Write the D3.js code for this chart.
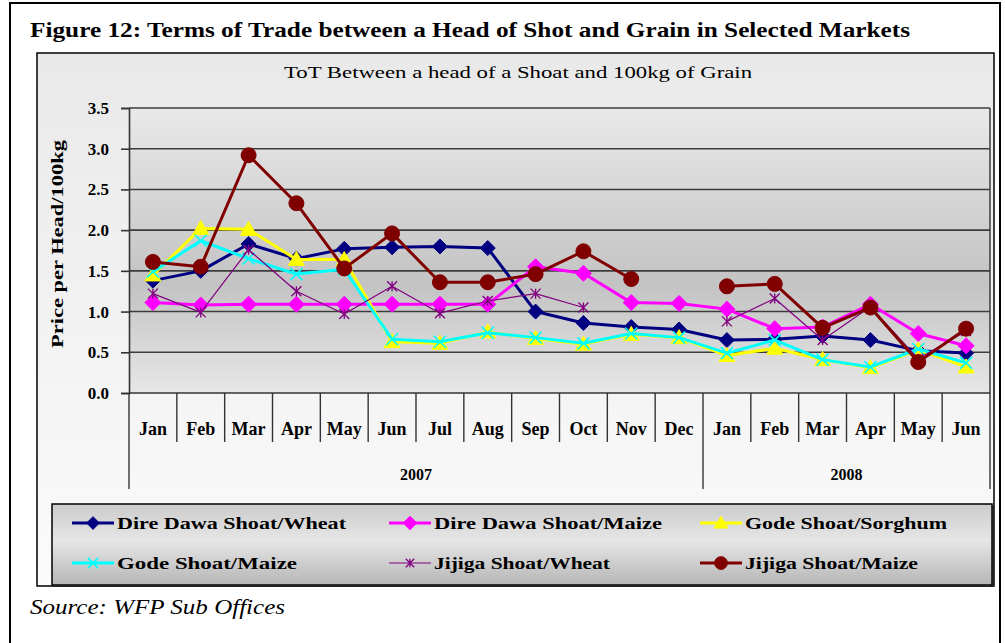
<!DOCTYPE html>
<html>
<head>
<meta charset="utf-8">
<script src="https://cdn.jsdelivr.net/npm/d3@7"></script>
<style>
  html, body { margin: 0; padding: 0; background: #ffffff; }
  svg { display: block; }
  text { font-family: "Liberation Serif", "Tinos", "Times New Roman", "Nimbus Roman", "DejaVu Serif Condensed", "DejaVu Serif", serif; font-stretch: condensed; fill: #000; }
</style>
</head>
<body>
<svg id="chart" width="1005" height="643"></svg>
<script>
// ---------------- DATA ----------------
const months = ["Jan","Feb","Mar","Apr","May","Jun","Jul","Aug","Sep","Oct","Nov","Dec",
                "Jan","Feb","Mar","Apr","May","Jun"];
const yearLabels = ["2007", "2008"];
const yearMonthCounts = [12, 6];
const yTicks = [0, 0.5, 1.0, 1.5, 2.0, 2.5, 3.0, 3.5];

const seriesNames = ["Dire Dawa Shoat/Wheat", "Dire Dawa Shoat/Maize", "Gode Shoat/Sorghum",
                     "Gode Shoat/Maize", "Jijiga Shoat/Wheat", "Jijiga Shoat/Maize"];

const direDawaWheat = [1.38,1.50,1.83,1.65,1.77,1.79,1.80,1.78,1.00,0.86,0.81,0.78,0.65,0.66,0.70,0.65,0.52,0.49];
const direDawaMaize = [1.11,1.08,1.09,1.09,1.09,1.09,1.09,1.09,1.55,1.47,1.11,1.10,1.03,0.79,0.81,1.09,0.73,0.58];
const godeSorghum   = [1.45,2.02,2.01,1.64,1.64,0.63,0.61,0.75,0.67,0.60,0.72,0.68,0.46,0.55,0.41,0.31,0.53,0.32];
const godeMaize     = [1.49,1.87,1.65,1.46,1.52,0.66,0.63,0.74,0.68,0.61,0.73,0.68,0.49,0.65,0.41,0.32,0.54,0.37];
const jijigaWheat   = [1.22,0.99,1.76,1.25,0.97,1.31,0.98,1.13,1.22,1.05,null,null,0.88,1.16,0.65,1.06,0.42,0.76];
const jijigaMaize   = [1.61,1.55,2.92,2.33,1.53,1.96,1.36,1.36,1.46,1.74,1.40,null,1.31,1.34,0.80,1.05,0.38,0.79];

const seriesValues = [direDawaWheat, direDawaMaize, godeSorghum, godeMaize, jijigaWheat, jijigaMaize];

// ---------------- STYLE ----------------
const seriesStyle = [
  {color: "#000080", width: 3,   marker: "diamond",  size: 7.5},
  {color: "#ff00ff", width: 3,   marker: "diamond",  size: 8},
  {color: "#ffff00", width: 3,   marker: "triangle", size: 8},
  {color: "#00ffff", width: 3,   marker: "x",        size: 6},
  {color: "#800080", width: 1.2, marker: "star",     size: 5},
  {color: "#800000", width: 3,   marker: "circle",   size: 7.5}
];
const legendTextWidths = [229, 228, 202, 180, 176, 173];

const svg = d3.select("#chart");
const defs = svg.append("defs");

function vgrad(id, stops) {
  const g = defs.append("linearGradient").attr("id", id)
    .attr("x1", 0).attr("y1", 0).attr("x2", 0).attr("y2", 1);
  stops.forEach(s => g.append("stop").attr("offset", s[0]).attr("stop-color", s[1]));
}
vgrad("chartBg", [[0, "#e9e9e9"], [1, "#fbfbfb"]]);
vgrad("plotBg", [[0, "#e9e9e9"], [0.62, "#c3c3c3"], [1, "#e7e7e7"]]);
vgrad("legendBg", [[0, "#cbcbcb"], [0.45, "#e6e6e6"], [1, "#b6b6b6"]]);

// Outer page frame
svg.append("path")
  .attr("d", "M10,650 L10,3 L1000,3 L1000,650")
  .attr("fill", "none").attr("stroke", "#000").attr("stroke-width", 2);

// Figure title
svg.append("text")
  .attr("x", 30).attr("y", 37)
  .attr("font-size", 21).attr("font-weight", "bold")
  .attr("textLength", 880).attr("lengthAdjust", "spacingAndGlyphs")
  .text("Figure 12: Terms of Trade between a Head of Shot and Grain in Selected Markets");

// Chart area
svg.append("rect")
  .attr("x", 37).attr("y", 53).attr("width", 957).attr("height", 533)
  .attr("fill", "url(#chartBg)").attr("stroke", "#000").attr("stroke-width", 1.5);

svg.append("text")
  .attr("x", 518).attr("y", 78).attr("text-anchor", "middle")
  .attr("font-size", 16)
  .attr("textLength", 468).attr("lengthAdjust", "spacingAndGlyphs")
  .text("ToT Between a head of a Shoat and 100kg of Grain");

// Scales
const plotLeft = 129, plotRight = 990, plotTop = 108, plotBottom = 393;
const x = d3.scaleBand().domain(d3.range(months.length)).range([plotLeft, plotRight]).padding(0);
const y = d3.scaleLinear().domain([0, 3.5]).range([plotBottom, plotTop]);

// Plot area background
svg.append("rect")
  .attr("x", plotLeft).attr("y", plotTop)
  .attr("width", plotRight - plotLeft).attr("height", plotBottom - plotTop)
  .attr("fill", "url(#plotBg)");

// Gridlines
svg.append("g").selectAll("line").data(yTicks.filter(d => d > 0)).join("line")
  .attr("x1", plotLeft).attr("x2", plotRight)
  .attr("y1", d => y(d)).attr("y2", d => y(d))
  .attr("stroke", "#3c3c3c").attr("stroke-width", 1.6);

svg.append("line")
  .attr("x1", plotRight).attr("x2", plotRight).attr("y1", plotTop).attr("y2", plotBottom)
  .attr("stroke", "#3c3c3c").attr("stroke-width", 1.5);

// Y axis
const yAxis = svg.append("g")
  .attr("transform", `translate(${plotLeft},0)`)
  .call(d3.axisLeft(y).tickValues(yTicks).tickFormat(d3.format(".1f")).tickSize(8).tickPadding(12));
yAxis.select(".domain").attr("stroke", "#333").attr("stroke-width", 1.6);
yAxis.selectAll(".tick line").attr("stroke", "#333").attr("stroke-width", 1.6);
yAxis.selectAll(".tick text")
  .attr("font-size", 17).attr("font-weight", "bold")
  .attr("fill", "#000");

svg.append("text")
  .attr("transform", "translate(63,244) rotate(-90)")
  .attr("text-anchor", "middle")
  .attr("font-size", 17).attr("font-weight", "bold")
  .attr("textLength", 208).attr("lengthAdjust", "spacingAndGlyphs")
  .text("Price per Head/100kg");

// X axis (category table)
svg.append("line")
  .attr("x1", plotLeft).attr("x2", plotRight).attr("y1", plotBottom).attr("y2", plotBottom)
  .attr("stroke", "#333").attr("stroke-width", 1.6);

const yearStarts = [];
let acc = 0;
yearMonthCounts.forEach(c => { yearStarts.push(acc); acc += c; });
const yearBoundaryIdx = yearStarts.concat([months.length]);

svg.append("g").selectAll("line").data(d3.range(months.length + 1)).join("line")
  .attr("x1", i => i < months.length ? x(i) : plotRight)
  .attr("x2", i => i < months.length ? x(i) : plotRight)
  .attr("y1", plotBottom)
  .attr("y2", i => yearBoundaryIdx.includes(i) ? 489 : 442)
  .attr("stroke", "#333").attr("stroke-width", 1.4);

svg.append("g").selectAll("text").data(months).join("text")
  .attr("x", (d, i) => x(i) + x.bandwidth() / 2)
  .attr("y", 435)
  .attr("text-anchor", "middle")
  .attr("font-size", 18).attr("font-weight", "bold")
  .text(d => d);

svg.append("g").selectAll("text").data(yearLabels).join("text")
  .attr("x", (d, i) => {
    const s = yearStarts[i], e = s + yearMonthCounts[i];
    return (x(s) + (e < months.length ? x(e) : plotRight)) / 2;
  })
  .attr("y", 480)
  .attr("text-anchor", "middle")
  .attr("font-size", 16).attr("font-weight", "bold")
  .text(d => d);

// Markers
function markerPath(type, s) {
  switch (type) {
    case "diamond": return `M0,${-s}L${s},0L0,${s}L${-s},0Z`;
    case "triangle": return `M0,${-s}L${s},${s * 0.75}L${-s},${s * 0.75}Z`;
    case "x": return `M${-s},${-s}L${s},${s}M${-s},${s}L${s},${-s}`;
    case "star": return `M${-s},${-s}L${s},${s}M${-s},${s}L${s},${-s}M0,${-s}L0,${s}`;
    case "circle": return d3.symbol(d3.symbolCircle, Math.PI * s * s)();
  }
}
function drawMarker(g, st, scale) {
  const s = st.size * scale;
  const filled = st.marker === "diamond" || st.marker === "triangle" || st.marker === "circle";
  g.append("path")
    .attr("d", markerPath(st.marker, s))
    .attr("fill", filled ? st.color : "none")
    .attr("stroke", st.color)
    .attr("stroke-width", filled ? 1 : (st.marker === "x" ? 1.6 : 1.3));
}

// Series
const line = d3.line()
  .defined(d => d.v != null)
  .x(d => x(d.i) + x.bandwidth() / 2)
  .y(d => y(d.v));

seriesValues.forEach((vals, k) => {
  const st = seriesStyle[k];
  const pts = vals.map((v, i) => ({i, v}));
  const g = svg.append("g");
  g.append("path")
    .datum(pts)
    .attr("d", line)
    .attr("fill", "none")
    .attr("stroke", st.color)
    .attr("stroke-width", st.width)
    .attr("stroke-linejoin", "round");
  pts.filter(d => d.v != null).forEach(d => {
    const mg = g.append("g")
      .attr("transform", `translate(${x(d.i) + x.bandwidth() / 2},${y(d.v)})`);
    drawMarker(mg, st, 1);
  });
});

// Legend
svg.append("rect")
  .attr("x", 52).attr("y", 504).attr("width", 940).attr("height", 81)
  .attr("fill", "url(#legendBg)").attr("stroke", "#000").attr("stroke-width", 1.5);
svg.append("path")
  .attr("d", "M53,586 L993,586 L993,505")
  .attr("fill", "none").attr("stroke", "#222").attr("stroke-width", 2);

const legendCols = [72, 389, 700];
const legendRows = [523, 563];
seriesNames.forEach((name, k) => {
  const st = seriesStyle[k];
  const cx = legendCols[k % 3], cy = legendRows[Math.floor(k / 3)];
  const g = svg.append("g");
  g.append("line")
    .attr("x1", cx).attr("x2", cx + 42).attr("y1", cy).attr("y2", cy)
    .attr("stroke", st.color).attr("stroke-width", st.width);
  const mg = g.append("g").attr("transform", `translate(${cx + 21},${cy})`);
  drawMarker(mg, st, 0.85);
  g.append("text")
    .attr("x", cx + 45).attr("y", cy + 6)
    .attr("font-size", 17).attr("font-weight", "bold")
    .attr("textLength", legendTextWidths[k]).attr("lengthAdjust", "spacingAndGlyphs")
    .text(name);
});

// Source
svg.append("text")
  .attr("x", 30).attr("y", 614)
  .attr("font-size", 21).attr("font-style", "italic")
  .attr("textLength", 255).attr("lengthAdjust", "spacingAndGlyphs")
  .text("Source: WFP Sub Offices");
</script>
</body>
</html>
